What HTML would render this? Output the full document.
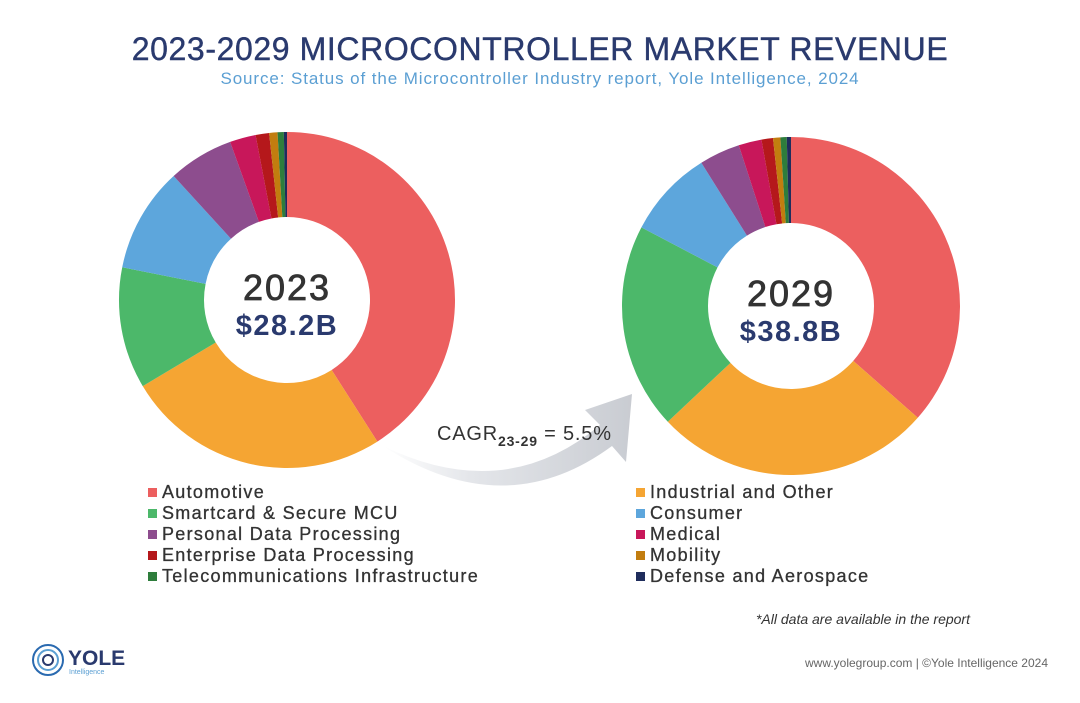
<!DOCTYPE html>
<html><head><meta charset="utf-8"><style>
body{margin:0;background:#fff;width:1080px;height:698px;overflow:hidden;font-family:"Liberation Sans",sans-serif}
</style></head><body>
<svg width="1080" height="698" viewBox="0 0 1080 698">
<defs><linearGradient id="ag" x1="0" x2="1" y1="0" y2="0"><stop offset="0" stop-color="#fff"/><stop offset="0.35" stop-color="#e4e6ea"/><stop offset="1" stop-color="#c9ccd2"/></linearGradient></defs>
<text x="540" y="60" text-anchor="middle" font-size="32" fill="#2a3a6e" letter-spacing="0.6" stroke="#2a3a6e" stroke-width="0.4">2023-2029 MICROCONTROLLER MARKET REVENUE</text>
<text x="540" y="84" text-anchor="middle" font-size="17" fill="#5b9fd3" letter-spacing="0.9">Source: Status of the Microcontroller Industry report, Yole Intelligence, 2024</text>
<path d="M383,446 Q505,505 600,425 L585,410 L632,394 L626,462 L612,446 Q505,525 383,446 Z" fill="url(#ag)"/>
<text x="437" y="440" font-size="20" fill="#333" letter-spacing="0.8">CAGR<tspan font-size="14" font-weight="bold" dy="6">23-29</tspan><tspan dy="-6"> = 5.5%</tspan></text>
<g id="donuts"></g>
<g id="legend"></g>
<text x="970" y="624" text-anchor="end" font-size="14" font-style="italic" fill="#333">*All data are available in the report</text>
<g>
<circle cx="48" cy="660" r="15" fill="none" stroke="#2a6ab0" stroke-width="2"/><circle cx="48" cy="660" r="10" fill="none" stroke="#5b9fd3" stroke-width="2"/><circle cx="48" cy="660" r="5" fill="none" stroke="#2a3a6e" stroke-width="2"/>
<text x="68" y="665" font-size="21" font-weight="bold" fill="#2a3a6e">YOLE</text>
<text x="69" y="674" font-size="7" fill="#5b9fd3">Intelligence</text></g>
<text x="1048" y="667" text-anchor="end" font-size="12" fill="#666">www.yolegroup.com | ©Yole Intelligence 2024</text>
</svg>
<script>
const categories=["Automotive","Industrial and Other","Smartcard & Secure MCU","Consumer","Personal Data Processing","Medical","Enterprise Data Processing","Mobility","Telecommunications Infrastructure","Defense and Aerospace"];
const colors=["#ec5f5f","#f5a533","#4cb86a","#5da6dc","#8d4d8e","#c8175a","#b5181b","#c27d0f","#2e7d3c","#1f2d5c"];
const share2023=[41,25.5,11.7,10.1,6.3,2.5,1.3,0.8,0.6,0.3];
const share2029=[36.5,26.5,19.7,8.4,3.9,2.2,1.1,0.7,0.6,0.4];
const years=["2023","2029"];
const totals=["$28.2B","$38.8B"];
const NS="http://www.w3.org/2000/svg";
const g=document.getElementById('donuts');
function pt(cx,cy,r,a){return [cx+r*Math.sin(a),cy-r*Math.cos(a)];}
function donut(vals,cx,cy,R,r,yi){
 const tot=vals.reduce((a,b)=>a+b,0);let a0=0;
 vals.forEach((v,i)=>{const a1=a0+v/tot*2*Math.PI;const l=(a1-a0)>Math.PI?1:0;
  const p1=pt(cx,cy,R,a0),p2=pt(cx,cy,R,a1),p3=pt(cx,cy,r,a1),p4=pt(cx,cy,r,a0);
  const p=document.createElementNS(NS,'path');
  p.setAttribute('d',`M${p1}A${R},${R} 0 ${l} 1 ${p2}L${p3}A${r},${r} 0 ${l} 0 ${p4}Z`);
  p.setAttribute('fill',colors[i]);
  
  
  g.appendChild(p);a0=a1;});
 const t1=document.createElementNS(NS,'text');t1.setAttribute('x',cx);t1.setAttribute('y',cy);t1.setAttribute('text-anchor','middle');t1.setAttribute('font-size','36');t1.setAttribute('letter-spacing','2');t1.setAttribute('stroke','#333');t1.setAttribute('stroke-width','0.8');t1.setAttribute('fill','#333');t1.textContent=years[yi];
 
 
 g.appendChild(t1);
 const t2=document.createElementNS(NS,'text');t2.setAttribute('x',cx);t2.setAttribute('y',cy+35);t2.setAttribute('text-anchor','middle');t2.setAttribute('font-size','29');t2.setAttribute('letter-spacing','1.5');t2.setAttribute('font-weight','bold');t2.setAttribute('fill','#2a3a6e');t2.textContent=totals[yi];
 
 
 g.appendChild(t2);
}
donut(share2023,287,300,168,83,0);
donut(share2029,791,306,169,83,1);
const lg=document.getElementById('legend');
const order=[[0,1],[2,3],[4,5],[6,7],[8,9]];
order.forEach((row,ri)=>{row.forEach((ci,ck)=>{const x=ck?636:148,y=497+ri*21;
 const rct=document.createElementNS(NS,'rect');rct.setAttribute('x',x);rct.setAttribute('y',y-9);rct.setAttribute('width',9);rct.setAttribute('height',9);rct.setAttribute('fill',colors[ci]);
 
 
 lg.appendChild(rct);
 const t=document.createElementNS(NS,'text');t.setAttribute('x',x+14);t.setAttribute('y',y+1);t.setAttribute('font-size','18');t.setAttribute('letter-spacing','1.3');t.setAttribute('stroke','#333');t.setAttribute('stroke-width','0.3');t.setAttribute('fill','#333');t.textContent=categories[ci];
 
 
 lg.appendChild(t);});});
</script>
</body></html>
